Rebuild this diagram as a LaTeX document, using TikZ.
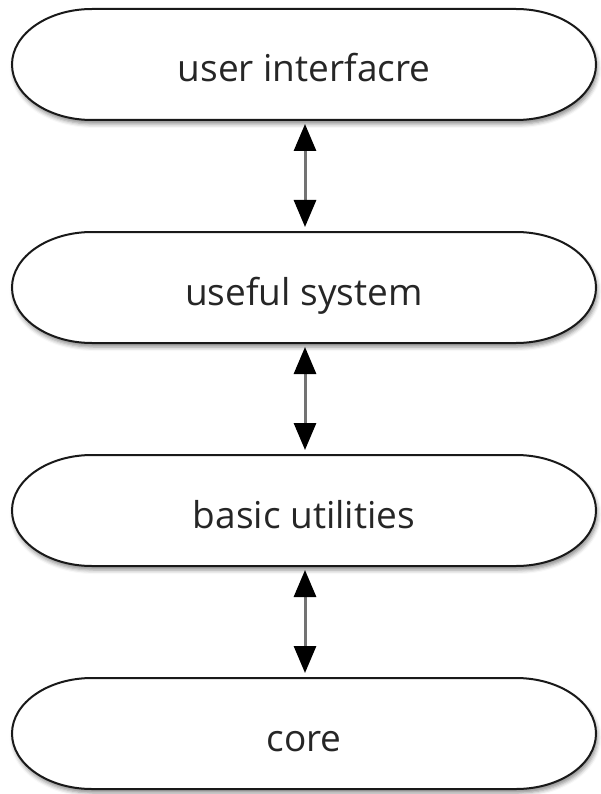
\documentclass[tikz,border=0pt]{standalone}
\usepackage{fontspec}
\setmainfont{Open Sans}
\usetikzlibrary{arrows.meta,shadows.blur,calc}

\tikzset{
  frame/.style={minimum width=584pt, minimum height=111pt, inner sep=0pt, outer sep=0pt},
  layerbox/.style={draw=black!90, line width=2pt, fill=white,
    blur shadow={shadow xshift=1.5pt, shadow yshift=-4pt, shadow blur radius=4pt, shadow opacity=45}},
  layerlabel/.style={inner sep=0pt, anchor=base, font=\fontsize{37}{44}\selectfont, text=black!85},
  link/.style={{Triangle[width=22pt,length=27pt,color=black]}-{Triangle[width=22pt,length=27pt,color=black]},
    line width=3pt, draw=black!55, shorten <=4pt, shorten >=5pt}
}

% stadium outline with elliptical ends around a frame node
\newcommand\layershape[1]{%
  \path[layerbox] ($(#1.north west)+(80pt,0)$) -- ($(#1.north east)+(-80pt,0)$)
    arc[start angle=90, end angle=-90, x radius=80pt, y radius=55.5pt]
    -- ($(#1.south west)+(80pt,0)$)
    arc[start angle=270, end angle=90, x radius=80pt, y radius=55.5pt] -- cycle;}

\begin{document}
\begin{tikzpicture}[x=1pt, y=1pt]
  \useasboundingbox (0,0) rectangle (600,-794);

  \node[frame] (ui)   at (304,-64.5)  {};
  \node[frame] (sys)  at (304,-287.5) {};
  \node[frame] (util) at (304,-510.5) {};
  \node[frame] (core) at (304,-733.5) {};

  \layershape{ui}
  \layershape{sys}
  \layershape{util}
  \layershape{core}

  \node[layerlabel] (ui-t)   at ($(ui.north)+(0,-73)$)   {user interfacre};
  \node[layerlabel] (sys-t)  at ($(sys.north)+(0,-73)$)  {useful system};
  \node[layerlabel] (util-t) at ($(util.north)+(0,-73)$) {basic utilities};
  \node[layerlabel] (core-t) at ($(core.north)+(0,-73)$) {core};

  \draw[link] ([xshift=1pt]ui.south)   -- ([xshift=1pt]sys.north);
  \draw[link] ([xshift=1pt]sys.south)  -- ([xshift=1pt]util.north);
  \draw[link] ([xshift=1pt]util.south) -- ([xshift=1pt]core.north);
\end{tikzpicture}
\end{document}
